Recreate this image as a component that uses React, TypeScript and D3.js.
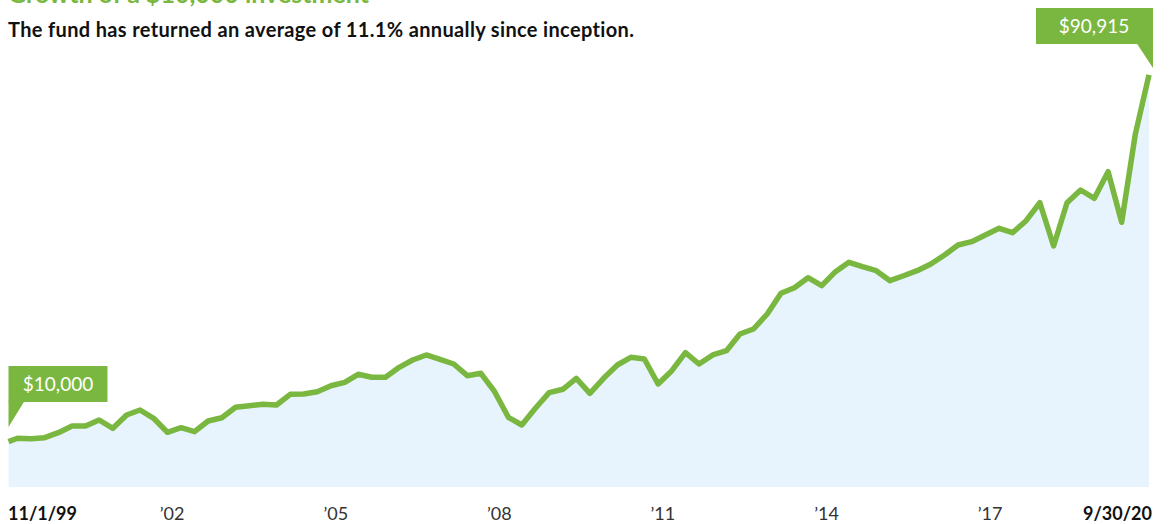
import React from 'react';
import * as d3 from 'd3';

// Quarter-end growth of $10,000 (11/1/99 .. 9/30/20)
const values = [
  10000, 10750, 10650, 10880, 11980, 13460, 13460, 14780, 12950, 15890,
  16990, 15160, 12070, 13080, 12200, 14560, 15290, 17590, 17940, 18250,
  18090, 20450, 20520, 21030, 22350, 23100, 24870, 24210, 24210, 26410,
  28020, 29130, 28180, 27140, 24560, 25090, 21030, 15380, 13680, 17370,
  20810, 21560, 23980, 20680, 23980, 26920, 28620, 28240, 22730, 25660,
  29640, 27140, 29130, 30080, 33760, 34860, 38170, 42740, 43980, 46180,
  44420, 47510, 49580, 48610, 47730, 45520, 46620, 47730, 49210, 51190,
  53400, 54130, 55600, 57080, 56110, 58760, 62730, 53180, 62730, 65530,
  63700, 69570, 58410, 77780, 90915,
];

const startDate = new Date(Date.UTC(1999, 10, 1));
const endDate = new Date(Date.UTC(2020, 8, 30));
// quarter ends: last day of Dec, Mar, Jun, Sep
const quarterEnds = d3.utcMonth
  .range(new Date(Date.UTC(2000, 0, 1)), new Date(Date.UTC(2020, 9, 2)), 3)
  .map(m => d3.utcDay.offset(m, -1));
const dates = [startDate, ...quarterEnds];

const tickYears = [2002, 2005, 2008, 2011, 2014, 2017];
const tickLabels = ['’02', '’05', '’08', '’11', '’14', '’17'];
const startLabel = '11/1/99';
const endLabel = '9/30/20';
const startValueLabel = '$10,000';
const endValueLabel = '$90,915';

const title = 'Growth of a $10,000 investment';
const subtitle = 'The fund has returned an average of 11.1% annually since inception.';

const GREEN = '#7ab740';
const FILL = '#e8f4fd';
const FONT = 'Lato, "Open Sans", sans-serif';

const App: React.FC = () => {
  const width = 1170;
  const height = 524;
  const baseY = 487;

  const x = d3.scaleUtc().domain([startDate, endDate]).range([8.5, 1149]);
  const y = d3.scaleLinear().domain([0, 100000]).range([baseY, baseY - 453.2]);

  const pts = values.map((v, i) => ({ d: dates[i], v }));

  const line = d3.line<{ d: Date; v: number }>()
    .x(p => x(p.d))
    .y(p => y(p.v));

  const area = d3.area<{ d: Date; v: number }>()
    .x(p => x(p.d))
    .y0(baseY)
    .y1(p => y(p.v));

  const x0 = x(startDate);
  const x1 = x(endDate);

  return (
    <svg
      width={width}
      height={height}
      style={{ position: 'absolute', left: 0, top: 0, background: '#fff' }}
      fontFamily={FONT}
    >
      <text x={8} y={3} fill={GREEN} fontSize={25} fontWeight={700}>{title}</text>
      <text x={8} y={37} fill="#111" fontSize={20} fontWeight={700} letterSpacing={0.35}>{subtitle}</text>

      <path d={area(pts) || ''} fill={FILL} />
      <path
        d={line(pts) || ''}
        fill="none"
        stroke={GREEN}
        strokeWidth={5.5}
        strokeLinejoin="round"
      />

      {/* start callout */}
      <g>
        <rect x={x0} y={366} width={99} height={36} fill={GREEN} />
        <path d={`M${x0},401 L${x0 + 16},401 L${x0},427 Z`} fill={GREEN} />
        <text x={x0 + 49.5} y={391} fill="#fff" fontSize={19} textAnchor="middle">{startValueLabel}</text>
      </g>

      {/* end callout */}
      <g>
        <rect x={1036} y={8} width={117} height={36} fill={GREEN} />
        <path d={`M1136.5,43 L1153,43 L1153,68 Z`} fill={GREEN} />
        <text x={1094} y={33} fill="#fff" fontSize={19} textAnchor="middle">{endValueLabel}</text>
      </g>

      {/* x labels */}
      <text x={8} y={520} fontSize={18} fontWeight={700} fill="#111">{startLabel}</text>
      <text x={x1 + 3} y={520} fontSize={18} fontWeight={700} fill="#111" textAnchor="end">{endLabel}</text>
      {tickYears.map((yr, i) => (
        <text
          key={yr}
          x={x(new Date(Date.UTC(yr, 10, 1)))}
          y={520}
          fontSize={18}
          fill="#333"
          textAnchor="middle"
        >
          {tickLabels[i]}
        </text>
      ))}
    </svg>
  );
};

export default App;
